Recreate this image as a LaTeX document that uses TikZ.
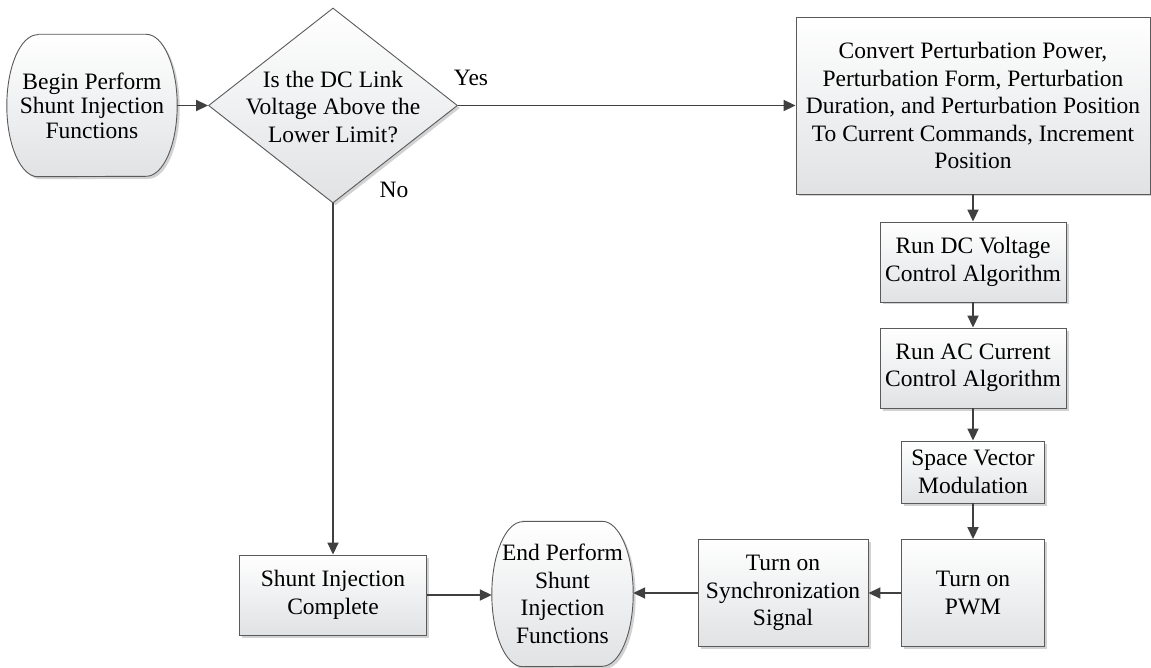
\documentclass[tikz,border=0pt]{standalone}
\usepackage{fontspec}
\setmainfont{Liberation Serif}
\usetikzlibrary{shapes.geometric,arrows.meta,shadows,backgrounds}

\definecolor{boxedge}{HTML}{5A5A5A}
\definecolor{boxbottom}{HTML}{E0E2E4}
\definecolor{linecol}{HTML}{404040}

\tikzset{
  flowfill/.style={draw=boxedge, line width=0.9pt, top color=white, bottom color=boxbottom,
    drop shadow={shadow xshift=2.5pt, shadow yshift=-2.5pt, fill=black!35, opacity=0.5}},
  procbox/.style={flowfill, rectangle, align=center, inner sep=2pt},
  termtext/.style={rectangle, align=center, inner sep=0pt},
  decision/.style={flowfill, diamond, inner sep=0pt},
  flow/.style={draw=linecol, line width=1.8pt, -{Triangle[length=12pt,width=11pt]}},
  lbl/.style={inner sep=0pt, align=center},
  tightlines/.style={font=\fontsize{23.5}{24.5}\selectfont}
}

% outline of a terminal: flat top and bottom, half-elliptic ends
% #1 node name, #2 horizontal radius, #3 half height (pt)
\newcommand\termoutline[3]{%
  \path[flowfill] ([xshift=#2pt]#1.north west) -- ([xshift=-#2pt]#1.north east)
    arc[start angle=90, end angle=-90, x radius=#2pt, y radius=#3pt]
    -- ([xshift=#2pt]#1.south west)
    arc[start angle=270, end angle=90, x radius=#2pt, y radius=#3pt] -- cycle;}

\begin{document}
\begin{tikzpicture}[x=1pt, y=-1pt, every node/.style={font=\fontsize{23.5}{27.5}\selectfont}]
  \useasboundingbox (0,0) rectangle (1151,668);

  % start terminal and decision
  \node[termtext, tightlines, minimum width=170pt, minimum height=142pt] (start) at (92,105.5)
    {Begin Perform\\Shunt Injection\\Functions};
  \node[decision, minimum width=249pt, minimum height=195pt] (dec) at (333,105.5) {};
  \node[lbl] (dectext) at (333,107) {Is the DC Link\\Voltage Above the\\Lower Limit?};

  % injection chain
  \node[procbox, minimum width=354pt, minimum height=177pt] (conv) at (973,105.5)
    {Convert Perturbation Power,\\Perturbation Form, Perturbation\\Duration, and Perturbation Position\\To Current Commands, Increment\\Position};
  \node[procbox, minimum width=186pt, minimum height=80pt] (dcv) at (973,262)
    {Run DC Voltage\\Control Algorithm};
  \node[procbox, minimum width=186pt, minimum height=80pt] (acc) at (973,368)
    {Run AC Current\\Control Algorithm};
  \node[procbox, minimum width=143pt, minimum height=62pt] (svm) at (973,472)
    {Space Vector\\Modulation};
  \node[procbox, minimum width=143pt, minimum height=107pt] (pwm) at (973,593)
    {Turn on\\PWM};
  \node[procbox, minimum width=170pt, minimum height=107pt] (sync) at (783,593)
    {Turn on\\Synchronization\\Signal};

  % end terminal and the "No" branch box
  \node[termtext, minimum width=141pt, minimum height=145pt] (end) at (562.5,594)
    {End Perform\\Shunt\\Injection\\Functions};
  \node[procbox, minimum width=187pt, minimum height=80pt] (done) at (333,595)
    {Shunt Injection\\Complete};

  % terminal outlines behind their texts
  \begin{scope}[on background layer]
    \termoutline{start}{31}{71}
    \termoutline{end}{31}{72.5}
  \end{scope}

  % connectors
  \draw[flow] (start) -- (dec);
  \draw[flow] (dec.east) -- (conv.west |- dec.east);
  \draw[flow] (dec.south) -- (done.north);
  \draw[flow] (conv) -- (dcv);
  \draw[flow] (dcv) -- (acc);
  \draw[flow] (acc) -- (svm);
  \draw[flow] (svm) -- (pwm);
  \draw[flow] (pwm) -- (sync);
  \draw[flow] (sync.west) -- (end.east |- sync.west);
  \draw[flow] (done.east) -- (end.west |- done.east);

  % branch labels
  \node[lbl] (yes) at (471,78) {Yes};
  \node[lbl] (no) at (394,190) {No};
\end{tikzpicture}
\end{document}
